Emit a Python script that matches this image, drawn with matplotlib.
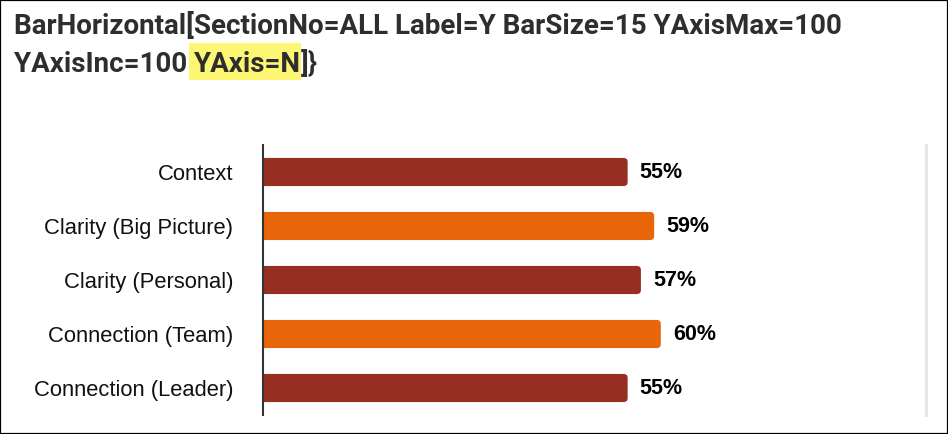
import matplotlib
matplotlib.use('Agg')
import matplotlib.pyplot as plt
from matplotlib.patches import FancyBboxPatch, Rectangle

# chart data
categories = ['Context', 'Clarity (Big Picture)', 'Clarity (Personal)',
              'Connection (Team)', 'Connection (Leader)']
values = [55, 59, 57, 60, 55]
bar_colors = ['#962e22', '#e8650a', '#962e22', '#e8650a', '#962e22']
title_line1 = 'BarHorizontal[SectionNo=ALL Label=Y BarSize=15 YAxisMax=100'
title_line2 = ['YAxisInc=100 ', 'YAxis=N', ']}']

W, H = 948, 434
fig = plt.figure(figsize=(W / 100, H / 100), dpi=100)
fig.patch.set_facecolor('white')

# outer border
fig.add_artist(Rectangle((0, 0), 1, 1, transform=fig.transFigure, fill=False,
                         edgecolor='black', linewidth=1.6))

# title, two lines, part of the second highlighted
title_kw = dict(fontfamily='Roboto', fontweight='bold', fontsize=20.0,
                color='#2e2e2e', va='baseline', ha='left')
fig.text(14 / W, 1 - 34 / H, title_line1, **title_kw)

renderer = fig.canvas.get_renderer()
x = 14
for i, part in enumerate(title_line2):
    t = fig.text(x / W, 1 - 72 / H, part, **title_kw)
    bb = t.get_window_extent(renderer)
    if i == 1:
        fig.add_artist(Rectangle(((bb.x0 - 5) / W, 1 - 80 / H),
                                 (bb.width + 5) / W, 37 / H,
                                 transform=fig.transFigure, facecolor='#fdf673',
                                 edgecolor='none', zorder=0))
    x += bb.width

# plot area
ax = fig.add_axes([263 / W, 19 / H, (926 - 263) / W, (415 - 145) / H])
ypos = list(range(len(categories)))
bars = ax.barh(ypos, values, height=0.52, color=bar_colors)
ax.set_xlim(0, 100)
ax.set_ylim(len(categories) - 0.5, -0.5)

# rounded right ends
px_x = (926 - 263) / 100
px_y = (415 - 145) / len(categories)
for b in bars:
    b.set_visible(False)
    fb = FancyBboxPatch((-2, b.get_y()), b.get_width() + 2, b.get_height(),
                        boxstyle='round,pad=0,rounding_size=%f' % (4 / px_x),
                        mutation_aspect=px_x / px_y,
                        facecolor=b.get_facecolor(), edgecolor='none')
    ax.add_patch(fb)

for yv, v in zip(ypos, values):
    ax.text(v + 12 / px_x, yv, f'{v}%', va='center', ha='left',
            fontfamily='Liberation Sans', fontweight='bold', fontsize=15.5,
            color='black')

ax.axvline(100, color='#e6e6e6', linewidth=2.2, clip_on=False, zorder=0)

ax.set_yticks(ypos)
ax.set_yticklabels(categories, fontfamily='Liberation Sans', fontsize=15.8,
                   color='#111111')
ax.tick_params(axis='y', length=0, pad=21.6)
ax.set_xticks([])
for s in ['top', 'right', 'bottom']:
    ax.spines[s].set_visible(False)
ax.spines['left'].set_color('#333333')
ax.spines['left'].set_linewidth(1.5)
ax.patch.set_alpha(0)

fig.savefig('out.png', dpi=100)
